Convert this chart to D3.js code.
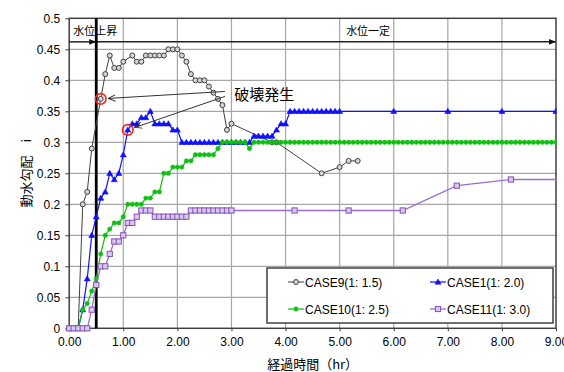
<!DOCTYPE html>
<html>
<head>
<meta charset="utf-8">
<script src="https://cdn.jsdelivr.net/npm/d3@7"></script>
<style>
  html, body { margin: 0; padding: 0; background: #fff; }
  svg text { font-family: "Liberation Sans Narrow", "Liberation Sans", "Noto Sans CJK JP", sans-serif; fill: #000; }
  .jp { font-family: "Noto Sans CJK JP", sans-serif; }
</style>
</head>
<body>
<svg id="chart" width="564" height="372"></svg>
<script>
// ---- data: elapsed time (minutes) and hydraulic gradient i ----
const case9Min = [0, 5, 10, 15, 20, 25, 35, 40, 45, 50, 55, 60, 70, 75, 80, 85, 90, 95, 100, 105,
  110, 115, 120, 125, 130, 135, 140, 145, 150, 155, 160, 165, 170, 175, 180, 225, 230, 280, 300, 310, 320];
const case9Val = [0, 0, 0, 0.20, 0.22, 0.29, 0.37, 0.41, 0.44, 0.42, 0.42, 0.43, 0.44, 0.43, 0.43, 0.44, 0.44, 0.44, 0.44, 0.44,
  0.45, 0.45, 0.45, 0.44, 0.43, 0.41, 0.40, 0.40, 0.40, 0.39, 0.38, 0.37, 0.36, 0.32, 0.33, 0.30, 0.30, 0.25, 0.26, 0.27, 0.27];

const case1Min = [0, 5, 10, 15, 20, 25, 30, 35, 40, 45, 50, 55, 60, 65, 70, 75, 80, 85, 90, 95,
  100, 105, 110, 115, 120, 125, 130, 135, 140, 145, 150, 155, 160, 165, 170, 175, 180, 185, 190, 195,
  200, 205, 210, 215, 220, 225, 230, 235, 240, 245, 250, 255, 260, 265, 270, 275, 280, 285, 290, 295,
  300, 360, 420, 480, 540];
const case1Val = [0, 0, 0, 0.03, 0.08, 0.15, 0.18, 0.21, 0.22, 0.25, 0.24, 0.25, 0.28, 0.32, 0.33, 0.33, 0.34, 0.34, 0.35, 0.33,
  0.33, 0.33, 0.33, 0.32, 0.32, 0.30, 0.30, 0.30, 0.30, 0.30, 0.30, 0.30, 0.30, 0.30, 0.30, 0.30, 0.30, 0.30, 0.30, 0.30,
  0.30, 0.31, 0.31, 0.31, 0.31, 0.31, 0.32, 0.33, 0.33, 0.35, 0.35, 0.35, 0.35, 0.35, 0.35, 0.35, 0.35, 0.35, 0.35, 0.35,
  0.35, 0.35, 0.35, 0.35, 0.35];

const case10Min = [0, 5, 10, 15, 20, 25, 30, 35, 40, 45, 50, 55, 60, 65, 70, 75, 80, 85, 90, 95,
  100, 105, 110, 115, 120, 125, 130, 135, 140, 145, 150, 155, 160, 165, 170, 175, 180, 185, 190, 195,
  200, 205, 210, 215, 220, 225, 230, 235, 240, 245, 250, 255, 260, 265, 270, 275, 280, 285, 290, 295,
  300, 305, 310, 315, 320, 325, 330, 335, 340, 345, 350, 355, 360, 365, 370, 375, 380, 385, 390, 395,
  400, 405, 410, 415, 420, 425, 430, 435, 440, 445, 450, 455, 460, 465, 470, 475, 480, 485, 490, 495,
  500, 505, 510, 515, 520, 525, 530, 535, 540];
const case10Val = [0, 0, 0, 0.03, 0.04, 0.06, 0.08, 0.12, 0.15, 0.16, 0.17, 0.17, 0.18, 0.20, 0.20, 0.20, 0.20, 0.21, 0.21, 0.22,
  0.22, 0.25, 0.25, 0.26, 0.26, 0.26, 0.27, 0.27, 0.28, 0.28, 0.28, 0.28, 0.28, 0.29, 0.30, 0.30, 0.30, 0.30, 0.30, 0.30,
  0.29, 0.30, 0.30, 0.30, 0.30, 0.30, 0.30, 0.30, 0.30, 0.30, 0.30, 0.30, 0.30, 0.30, 0.30, 0.30, 0.30, 0.30, 0.30, 0.30,
  0.30, 0.30, 0.30, 0.30, 0.30, 0.30, 0.30, 0.30, 0.30, 0.30, 0.30, 0.30, 0.30, 0.30, 0.30, 0.30, 0.30, 0.30, 0.30, 0.30,
  0.30, 0.30, 0.30, 0.30, 0.30, 0.30, 0.30, 0.30, 0.30, 0.30, 0.30, 0.30, 0.30, 0.30, 0.30, 0.30, 0.30, 0.30, 0.30, 0.30,
  0.30, 0.30, 0.30, 0.30, 0.30, 0.30, 0.30, 0.30, 0.30];

const case11Min = [0, 5, 10, 15, 20, 25, 30, 35, 40, 45, 50, 55, 60, 65, 70, 75, 80, 85, 90, 95,
  100, 105, 110, 115, 120, 125, 130, 135, 140, 145, 150, 155, 160, 165, 170, 175, 180, 250, 310, 370, 430, 490, 550];
const case11Val = [0, 0, 0, 0, 0, 0.03, 0.07, 0.10, 0.10, 0.12, 0.14, 0.14, 0.15, 0.17, 0.17, 0.18, 0.19, 0.19, 0.19, 0.18,
  0.18, 0.18, 0.18, 0.18, 0.18, 0.18, 0.18, 0.19, 0.19, 0.19, 0.19, 0.19, 0.19, 0.19, 0.19, 0.19, 0.19, 0.19, 0.19, 0.19, 0.23, 0.24, 0.24];

const seriesNames = ["CASE9(1: 1.5)", "CASE1(1: 2.0)", "CASE10(1: 2.5)", "CASE11(1: 3.0)"];

const xTicks = [0, 1, 2, 3, 4, 5, 6, 7, 8, 9];
const xTickLabels = ["0.00", "1.00", "2.00", "3.00", "4.00", "5.00", "6.00", "7.00", "8.00", "9.00"];
const yTicks = [0, 0.05, 0.1, 0.15, 0.2, 0.25, 0.3, 0.35, 0.4, 0.45, 0.5];
const yTickLabels = ["0", "0.05", "0.1", "0.15", "0.2", "0.25", "0.3", "0.35", "0.4", "0.45", "0.5"];

// water level phases and failure points
const riseEndHr = 0.5;           // end of water level rise
const phaseLevel = 0.462;        // height of the phase arrow line (in i units)
const phaseLabels = ["水位上昇", "水位一定"];
const failureLabel = "破壊発生";
const failureMin = [35, 65];      // CASE9, CASE1
const failureVal = [0.37, 0.32];

// ---- layout ----
const svg = d3.select("#chart");
const plot = { left: 69.2, right: 556, top: 18.3, bottom: 328.3 };
const x = d3.scaleLinear().domain([0, 9]).range([plot.left, plot.right]);
const y = d3.scaleLinear().domain([0, 0.5]).range([plot.bottom, plot.top]);
const hr = m => m / 60;

const defs = svg.append("defs");
defs.append("clipPath").attr("id", "clip")
  .append("rect").attr("x", 0).attr("y", 0).attr("width", plot.right + 0.5).attr("height", 372);
defs.append("marker").attr("id", "solidArrow").attr("viewBox", "0 0 10 10")
  .attr("refX", 10).attr("refY", 5).attr("markerWidth", 7).attr("markerHeight", 7)
  .attr("markerUnits", "userSpaceOnUse").attr("orient", "auto")
  .append("path").attr("d", "M0,1 L10,5 L0,9 Z").attr("fill", "#111");
defs.append("marker").attr("id", "openArrow").attr("viewBox", "0 0 10 10")
  .attr("refX", 9).attr("refY", 5).attr("markerWidth", 8).attr("markerHeight", 8)
  .attr("markerUnits", "userSpaceOnUse").attr("orient", "auto")
  .append("path").attr("d", "M0,1 L9,5 L0,9").attr("fill", "none").attr("stroke", "#222").attr("stroke-width", 1.2);

// grid
const grid = svg.append("g");
grid.selectAll("line.h").data(yTicks.slice(1, -1)).join("line")
  .attr("x1", plot.left).attr("x2", plot.right)
  .attr("y1", d => y(d)).attr("y2", d => y(d))
  .attr("stroke", "#a6a6a6").attr("stroke-width", 1.2);
grid.selectAll("line.v").data(xTicks.slice(1, -1)).join("line")
  .attr("y1", plot.top).attr("y2", plot.bottom)
  .attr("x1", d => x(d)).attr("x2", d => x(d))
  .attr("stroke", "#a6a6a6").attr("stroke-width", 1.2);

// axes
const yAxis = d3.axisLeft(y).tickValues(yTicks).tickSize(4).tickPadding(5)
  .tickFormat((d, i) => yTickLabels[i]);
const gy = svg.append("g").attr("transform", `translate(${plot.left},0)`).call(yAxis);
gy.select(".domain").remove();
gy.selectAll("line").attr("stroke", "#404040");
gy.selectAll("text").attr("font-size", 12).style("font-family", '"Liberation Sans Narrow", "Liberation Sans", sans-serif');

const xAxis = d3.axisBottom(x).tickValues(xTicks).tickSize(3).tickPadding(6)
  .tickFormat((d, i) => xTickLabels[i]);
const gx = svg.append("g").attr("transform", `translate(0,${plot.bottom})`).call(xAxis);
gx.select(".domain").remove();
gx.selectAll("line").attr("stroke", "#404040");
gx.selectAll("text").attr("font-size", 12).style("font-family", '"Liberation Sans Narrow", "Liberation Sans", sans-serif');

// plot frame
svg.append("rect").attr("x", plot.left).attr("y", plot.top)
  .attr("width", plot.right - plot.left).attr("height", plot.bottom - plot.top)
  .attr("fill", "none").attr("stroke", "#404040").attr("stroke-width", 1.5);

// water level phase arrows
const phase = svg.append("g");
phase.append("line")
  .attr("x1", x(0)).attr("x2", x(riseEndHr))
  .attr("y1", y(phaseLevel)).attr("y2", y(phaseLevel))
  .attr("stroke", "#222").attr("stroke-width", 1.5).attr("marker-end", "url(#solidArrow)");
phase.append("line")
  .attr("x1", x(riseEndHr)).attr("x2", x(9))
  .attr("y1", y(phaseLevel)).attr("y2", y(phaseLevel))
  .attr("stroke", "#222").attr("stroke-width", 1.5).attr("marker-end", "url(#solidArrow)");
phase.append("line")
  .attr("x1", x(riseEndHr)).attr("x2", x(riseEndHr))
  .attr("y1", y(0.5)).attr("y2", y(0))
  .attr("stroke", "#000").attr("stroke-width", 2.8);
phase.append("text").attr("class", "jp")
  .attr("x", x(0) + 4).attr("y", y(phaseLevel) - 7)
  .attr("font-size", 11).text(phaseLabels[0]);
phase.append("text").attr("class", "jp")
  .attr("x", x(5.12)).attr("y", y(phaseLevel) - 7)
  .attr("font-size", 11).text(phaseLabels[1]);

// series
const series = [
  { name: seriesNames[0], min: case9Min, val: case9Val, color: "#404040", width: 1, shape: "circle", fill: "#d4d4d4", stroke: "#404040" },
  { name: seriesNames[1], min: case1Min, val: case1Val, color: "#1010ff", width: 1.2, shape: "triangle", fill: "#1010ff", stroke: "#1010ff" },
  { name: seriesNames[2], min: case10Min, val: case10Val, color: "#10c010", width: 1.2, shape: "dot", fill: "#10c010", stroke: "#10c010" },
  { name: seriesNames[3], min: case11Min, val: case11Val, color: "#9a6fcc", width: 1.3, shape: "square", fill: "#d9c8ec", stroke: "#8650b8" }
];

function drawMarker(g, shape, s, cx, cy) {
  if (shape === "circle") {
    g.append("circle").attr("cx", cx).attr("cy", cy).attr("r", 2.5)
      .attr("fill", s.fill).attr("stroke", s.stroke).attr("stroke-width", 1);
  } else if (shape === "triangle") {
    g.append("path").attr("transform", `translate(${cx},${cy})`)
      .attr("d", "M0,-3 L3,2.2 L-3,2.2 Z").attr("fill", s.fill).attr("stroke", s.stroke).attr("stroke-width", 0.6);
  } else if (shape === "dot") {
    g.append("circle").attr("cx", cx).attr("cy", cy).attr("r", 2.2)
      .attr("fill", s.fill).attr("stroke", s.stroke).attr("stroke-width", 0.5);
  } else {
    g.append("rect").attr("x", cx - 2.6).attr("y", cy - 2.6).attr("width", 5.2).attr("height", 5.2)
      .attr("fill", s.fill).attr("stroke", s.stroke).attr("stroke-width", 1);
  }
}

const lineGen = d3.line().x(d => x(hr(d[0]))).y(d => y(d[1]));
const plotG = svg.append("g").attr("clip-path", "url(#clip)");
series.forEach(s => {
  const pts = s.min.map((m, i) => [m, s.val[i]]);
  const g = plotG.append("g");
  g.append("path").datum(pts).attr("d", lineGen)
    .attr("fill", "none").attr("stroke", s.color).attr("stroke-width", s.width);
  pts.forEach(p => drawMarker(g, s.shape, s, x(hr(p[0])), y(p[1])));
});

// failure annotation
const ann = svg.append("g");
const labelPos = { t: 3.05, v: 0.368 };
const arrowStarts = [{ t: 2.88, v: 0.382 }, { t: 2.88, v: 0.374 }];
failureMin.forEach((m, i) => {
  const cx = x(hr(m)), cy = y(failureVal[i]);
  ann.append("circle").attr("cx", cx).attr("cy", cy).attr("r", 5.3)
    .attr("fill", "none").attr("stroke", "#ff2020").attr("stroke-width", 1.6);
  const sx = x(arrowStarts[i].t), sy = y(arrowStarts[i].v);
  const dx = sx - cx, dy = sy - cy, len = Math.hypot(dx, dy);
  const ex = cx + dx / len * 7.5, ey = cy + dy / len * 7.5;
  ann.append("line").attr("x1", sx).attr("y1", sy).attr("x2", ex).attr("y2", ey)
    .attr("stroke", "#333").attr("stroke-width", 1).attr("marker-end", "url(#openArrow)");
});
ann.append("text").attr("class", "jp")
  .attr("x", x(labelPos.t)).attr("y", y(labelPos.v))
  .attr("font-size", 15).text(failureLabel);

// legend
const lg = svg.append("g");
lg.append("rect").attr("x", 267).attr("y", 268).attr("width", 286).attr("height", 55)
  .attr("fill", "#fff").attr("stroke", "#404040").attr("stroke-width", 1.5);
const legendPos = [[288, 282], [430, 282], [288, 309], [430, 309]];
series.forEach((s, i) => {
  const [lx, ly] = legendPos[i];
  lg.append("line").attr("x1", lx).attr("x2", lx + 16).attr("y1", ly).attr("y2", ly)
    .attr("stroke", s.color).attr("stroke-width", s.width);
  drawMarker(lg, s.shape, s, lx + 8, ly);
  lg.append("text").attr("x", lx + 17).attr("y", ly + 4.5)
    .attr("font-size", 12).style("font-family", '"Liberation Sans", sans-serif').text(s.name);
});

// axis titles
svg.append("text").attr("class", "jp")
  .attr("transform", `translate(31,${(plot.top + plot.bottom) / 2}) rotate(-90)`)
  .attr("text-anchor", "middle").attr("font-size", 13).text("動水勾配　i");
svg.append("text").attr("class", "jp")
  .attr("x", (plot.left + plot.right) / 2).attr("y", 369)
  .attr("text-anchor", "middle").attr("font-size", 13).text("経過時間（hr）");
</script>
</body>
</html>
